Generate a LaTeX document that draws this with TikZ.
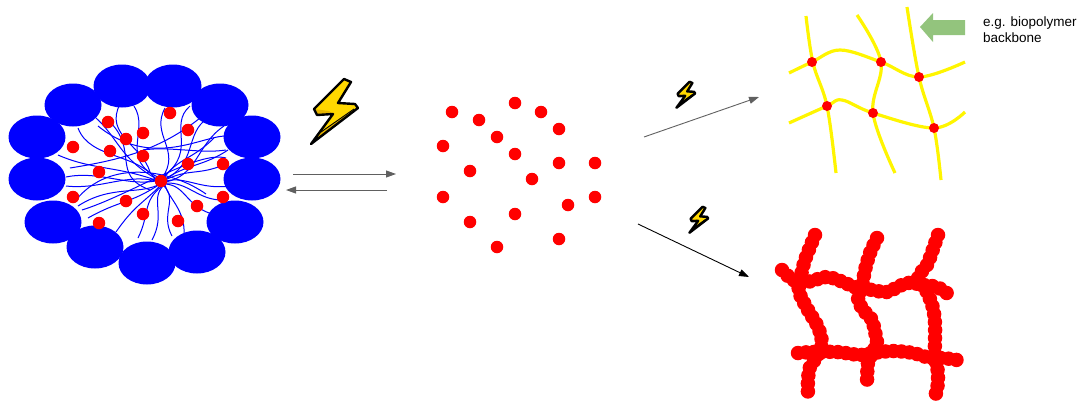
\documentclass[tikz,border=0pt]{standalone}
\usepackage{fontspec}
\setmainfont{Liberation Sans}
\usetikzlibrary{arrows.meta,shapes.geometric}

\definecolor{boltyellow}{RGB}{255,216,0}
\definecolor{boltshade}{RGB}{230,180,0}
\definecolor{arrowgray}{RGB}{96,96,96}
\definecolor{leafgreen}{RGB}{147,196,125}
\definecolor{chainyellow}{RGB}{255,245,0}

\tikzset{
  head/.style={ellipse, fill=blue, draw=none, minimum width=57pt, minimum height=43pt, inner sep=0pt},
  tail/.style={blue, line width=1pt},
  reddot/.style={circle, fill=red, draw=none, minimum size=12.5pt, inner sep=0pt},
  linkdot/.style={circle, fill=red, draw=none, minimum size=10pt, inner sep=0pt},
  chain/.style={chainyellow, line width=3.2pt},
  grayarrow/.style={arrowgray, line width=0.9pt, -{Triangle[length=10pt,width=7pt]}},
  blackarrow/.style={black, line width=0.9pt, -{Triangle[length=10pt,width=7pt]}},
  beads/.style={red, line width=14.5pt, line cap=round, dash pattern=on 0pt off 8pt},
  bolt/.pic={
    \fill[boltyellow] (9,-33) -- (-21,-3) -- (-18,3) -- (-2,2)
      -- (-24,32) -- (23,-4) -- (20,-8) -- (3,-9) -- (16,-30) -- cycle;
    % extruded lower edge
    \fill[boltshade] (-24,32) -- (23,-4) -- (19,-3) -- (-14,20) -- cycle;
    \fill[boltshade] (-21,-3) -- (-18,3) -- (-2,2) -- (-6,-1) -- cycle;
    \draw[black, line width=2.4pt, line join=round] (9,-33) -- (-21,-3) -- (-18,3) -- (-2,2)
      -- (-24,32) -- (23,-4) -- (20,-8) -- (3,-9) -- (16,-30) -- cycle;
    \draw[black, line width=0.9pt] (-14,20) -- (19,-3);
  }
}

\begin{document}
\begin{tikzpicture}[x=1pt, y=-1pt]
\useasboundingbox (0,0) rectangle (1085,408);

% ---------- micelle: hydrophobic tails ----------
\begin{scope}[tail]
\draw (120,104) .. controls (104,135) and (142,145) .. (150,172);
\draw (134,106) .. controls (150,130) and (118,160) .. (160,178);
\draw (165,108) .. controls (150,135) and (182,150) .. (162,178);
\draw (190,106) .. controls (168,125) and (197,150) .. (165,175);
\draw (208,118) .. controls (184,133) and (198,165) .. (163,180);
\draw (224,126) .. controls (196,145) and (198,176) .. (165,182);
\draw (96,118) .. controls (118,138) and (120,158) .. (155,178);
\draw (78,128) .. controls (90,160) and (138,152) .. (158,182);
\draw (58,155) .. controls (92,170) and (118,166) .. (158,181);
\draw (66,177) .. controls (100,170) and (130,188) .. (160,180);
\draw (66,186) .. controls (102,190) and (128,172) .. (160,182);
\draw (78,206) .. controls (112,184) and (140,196) .. (162,183);
\draw (88,218) .. controls (120,200) and (130,204) .. (160,184);
\draw (116,232) .. controls (134,206) and (142,204) .. (161,185);
\draw (138,238) .. controls (150,214) and (142,202) .. (162,186);
\draw (152,240) .. controls (166,214) and (150,200) .. (163,186);
\draw (172,236) .. controls (160,214) and (178,200) .. (164,186);
\draw (184,236) .. controls (186,210) and (168,198) .. (165,185);
\draw (212,214) .. controls (186,206) and (186,186) .. (166,184);
\draw (222,200) .. controls (198,200) and (188,182) .. (166,183);
\draw (230,186) .. controls (200,190) and (186,176) .. (166,181);
\draw (226,164) .. controls (198,176) and (190,168) .. (165,180);
\draw (228,150) .. controls (204,166) and (188,164) .. (165,179);
\draw (214,138) .. controls (192,160) and (178,158) .. (164,178);
\draw (82,210) .. controls (130,195) and (198,150) .. (226,158);
\draw (98,126) .. controls (150,168) and (198,138) .. (224,136);
\draw (143,150) .. controls (170,146) and (200,154) .. (226,150);
\draw (76,200) .. controls (110,158) and (172,170) .. (206,194);
\draw (108,120) .. controls (140,150) and (110,175) .. (150,190);
\draw (70,168) .. controls (120,160) and (160,150) .. (200,118);
\end{scope}

% ---------- micelle: polar heads ----------
\node[head] (h1)  at (122,86)  {};
\node[head] (h2)  at (173,86)  {};
\node[head] (h3)  at (73,105)  {};
\node[head] (h4)  at (220,105) {};
\node[head] (h5)  at (37,137)  {};
\node[head] (h6)  at (252,137) {};
\node[head] (h7)  at (37,179)  {};
\node[head] (h8)  at (252,179) {};
\node[head] (h9)  at (53,222)  {};
\node[head] (h10) at (235,222) {};
\node[head] (h11) at (95,247)  {};
\node[head] (h12) at (197,252) {};
\node[head] (h13) at (147,263) {};

% ---------- micelle: loaded cargo ----------
\foreach \x/\y [count=\i] in {170/113,108/122,143/133,126/139,188/130,73/147,110/151,
    143/156,99/172,188/164,223/164,161/181,73/197,223/197,126/201,197/206,143/214,99/223,178/221}
  \node[reddot] (m\i) at (\x,\y) {};

% ---------- trigger and equilibrium ----------
\pic at (335,112) {bolt};
\coordinate (eqA) at (293,174);
\coordinate (eqB) at (396,174);
\coordinate (eqC) at (387,190);
\coordinate (eqD) at (286,190);
\draw[grayarrow] (eqA) -- (eqB);
\draw[grayarrow] (eqC) -- (eqD);

% ---------- released cargo ----------
\foreach \x/\y [count=\i] in {452/112,515/103,541/112,479/120,559/129,497/137,443/146,515/154,
    559/163,595/163,470/171,532/179,443/197,595/197,568/205,515/214,470/222,559/239,497/247}
  \node[reddot] (f\i) at (\x,\y) {};

% ---------- pathways ----------
\pic[scale=0.4] at (686,95) {bolt};
\pic[scale=0.4] at (699,220) {bolt};
\coordinate (upS) at (644,137);
\coordinate (upE) at (759,97);
\coordinate (dnS) at (638,224);
\coordinate (dnE) at (749,277);
\draw[grayarrow] (upS) -- (upE);
\draw[blackarrow] (dnS) -- (dnE);

% ---------- crosslinked backbone network ----------
\draw[chain] plot[smooth, tension=0.6] coordinates {(806,16) (813,63) (827,106) (836,173)};
\draw[chain] plot[smooth, tension=0.6] coordinates {(857,15) (881,62) (873,113) (895,173)};
\draw[chain] plot[smooth, tension=0.6] coordinates {(907,7) (919,77) (934,128) (941,180)};
\draw[chain] plot[smooth, tension=0.6] coordinates {(789,73) (812,62) (840,50) (881,62) (919,77) (965,62)};
\draw[chain] plot[smooth, tension=0.6] coordinates {(789,123) (827,106) (842,100) (873,113) (934,128) (965,112)};
\foreach \x/\y [count=\i] in {812/62,881/62,919/77,827/106,873/113,934/128}
  \node[linkdot] (x\i) at (\x,\y) {};

\fill[leafgreen] (920,27) -- (933,13) -- (933,20) -- (965,20) -- (965,35) -- (933,35) -- (933,42) -- cycle;
\node[anchor=base west, inner sep=0pt, font=\fontsize{13.5}{15}\selectfont] (lab1) at (983,26) {e.g. biopolymer};
\node[anchor=base west, inner sep=0pt, font=\fontsize{13.5}{15}\selectfont] (lab2) at (983,42) {backbone};

% ---------- self-assembled cargo network ----------
\draw[beads] plot[smooth, tension=0.5] coordinates {(815,235) (805,260) (800,280) (799,292) (808,310) (818,327) (822,343) (818,355) (810,367) (808,380) (808,395)};
\draw[beads] plot[smooth, tension=0.5] coordinates {(877,238) (870,253) (865,270) (862,287) (858,300) (865,312) (872,320) (875,332) (877,342) (873,352) (868,363) (867,383)};
\draw[beads] plot[smooth, tension=0.5] coordinates {(938,235) (932,252) (927,265) (918,278) (927,292) (933,308) (935,323) (935,340) (935,357) (938,373) (937,390) (933,400)};
\draw[beads] plot[smooth, tension=0.5] coordinates {(782,270) (793,280) (807,282) (827,277) (843,282) (857,288) (873,290) (887,292) (907,283) (923,285) (937,287) (948,294)};
\draw[beads] plot[smooth, tension=0.5] coordinates {(798,353) (813,352) (837,352) (860,355) (873,353) (893,351) (913,353) (930,358) (943,358) (957,360)};
\end{tikzpicture}
\end{document}
